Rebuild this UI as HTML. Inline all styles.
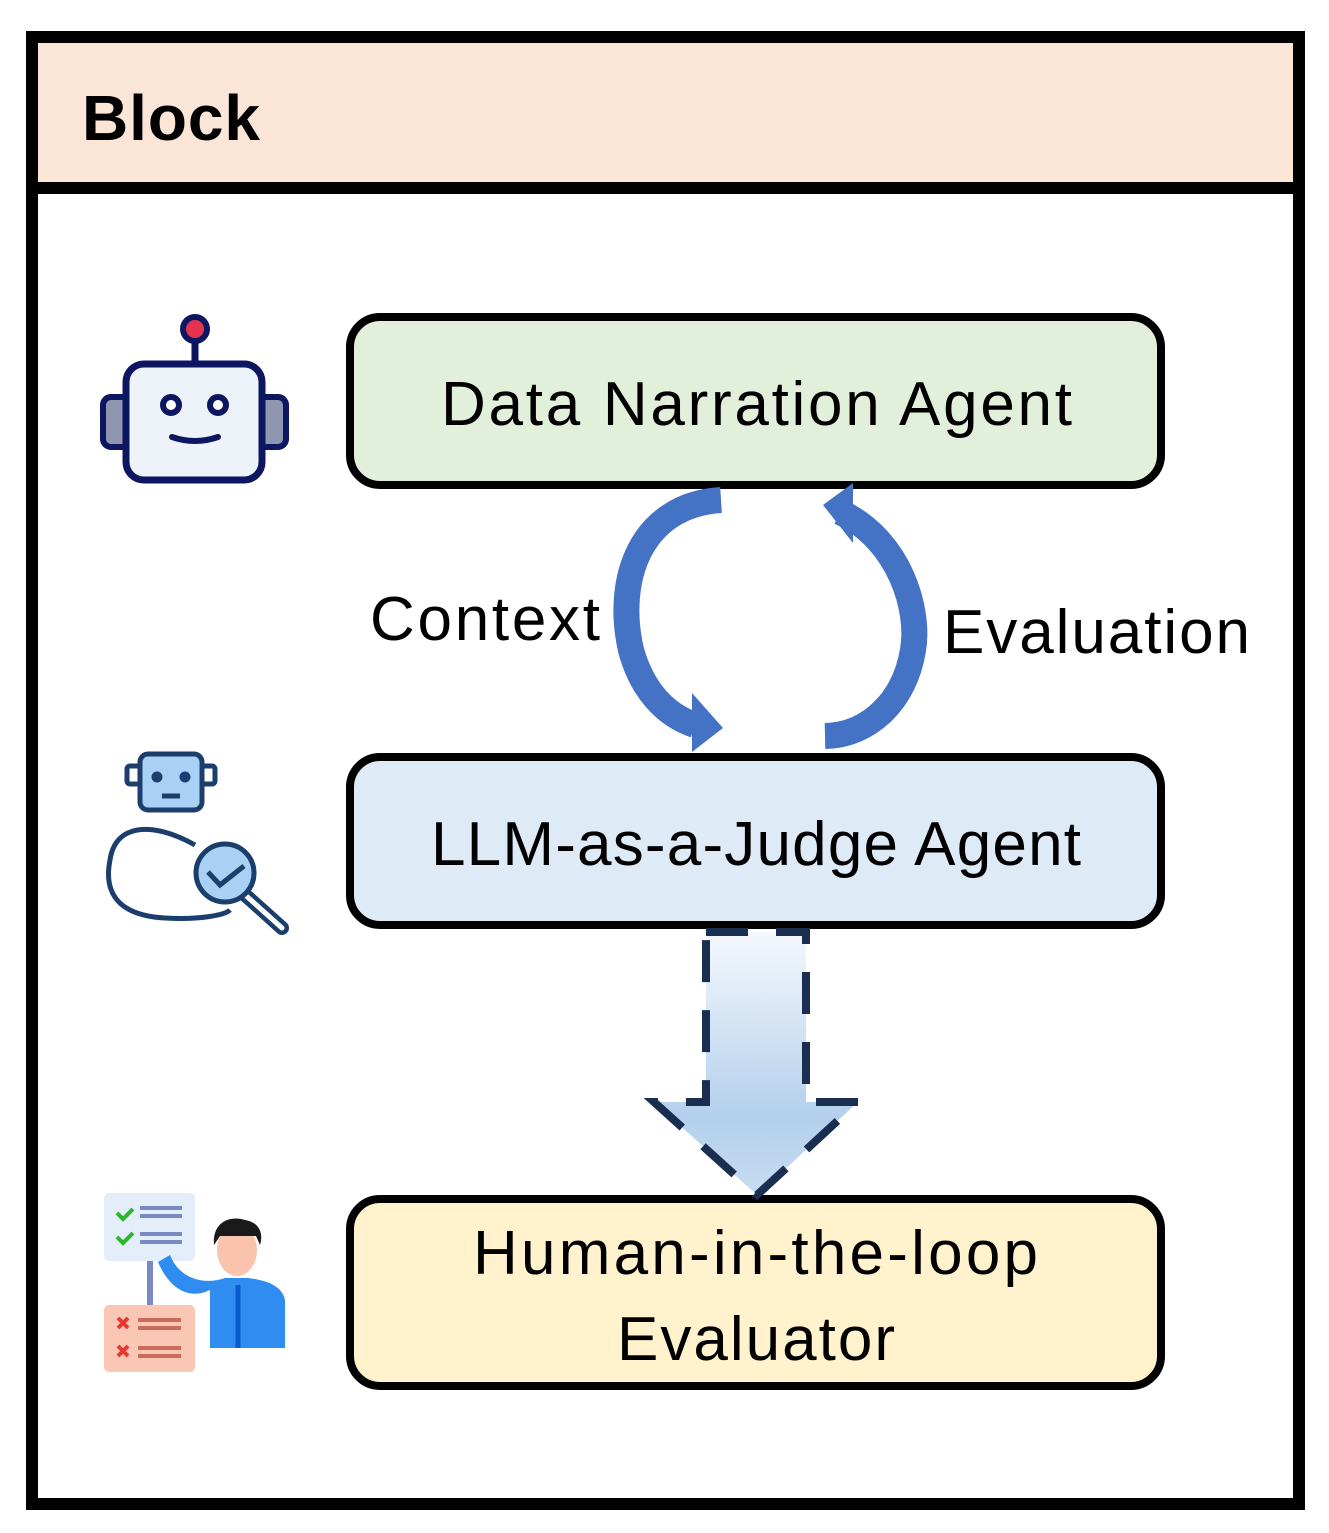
<!DOCTYPE html>
<html><head><meta charset="utf-8"><style>
html,body{margin:0;padding:0;background:#fff}
svg{display:block}
text{font-family:"Liberation Sans",sans-serif;fill:#000}
</style></head><body>
<svg width="1329" height="1533" viewBox="0 0 1329 1533">
<defs>
<linearGradient id="g" x1="0" y1="0" x2="0" y2="1">
<stop offset="0" stop-color="#f5f8fd"/><stop offset="0.7" stop-color="#b4d0ec"/><stop offset="1" stop-color="#c6dcf0"/>
</linearGradient>
</defs>
<rect x="0" y="0" width="1329" height="1533" fill="#fff"/>
<rect x="32" y="37" width="1267" height="1467" fill="#fff" stroke="#000" stroke-width="12"/>
<rect x="38" y="43" width="1255" height="139" fill="#fae5d6"/>
<rect x="32" y="182" width="1267" height="12" fill="#000"/>
<text x="82" y="140" font-size="64" font-weight="bold" textLength="178">Block</text>

<rect x="350" y="317" width="811" height="168" rx="30" fill="#e2efda" stroke="#000" stroke-width="8"/>
<text x="441" y="425" font-size="62" textLength="631">Data Narration Agent</text>
<rect x="350" y="757" width="811" height="168" rx="30" fill="#deebf7" stroke="#000" stroke-width="8"/>
<text x="431" y="865" font-size="62" textLength="650">LLM-as-a-Judge Agent</text>
<rect x="350" y="1199" width="811" height="187" rx="30" fill="#fff2cc" stroke="#000" stroke-width="8"/>
<text x="473" y="1274" font-size="62" textLength="565">Human-in-the-loop</text>
<text x="617" y="1360" font-size="62" textLength="278">Evaluator</text>

<text x="370" y="640" font-size="62" textLength="230">Context</text>
<text x="943" y="653" font-size="62" textLength="307">Evaluation</text>

<!-- left arrow -->
<path d="M721,500 C640,505 615,580 631,650 C642,690 665,715 695,725" fill="none" stroke="#4472c4" stroke-width="26"/>
<polygon points="692,693 723,728 692,752" fill="#4472c4"/>
<!-- right arrow -->
<path d="M840,512 C900,540 920,610 913,650 C905,700 870,735 825,736" fill="none" stroke="#4472c4" stroke-width="26"/>
<polygon points="853,483 823,505 853,543" fill="#4472c4"/>

<!-- dashed arrow -->
<polygon points="706,932 806,932 806,1102 858,1102 757,1195 654,1102 706,1102" fill="url(#g)" stroke="#1a2e52" stroke-width="8" stroke-dasharray="42,28" stroke-linejoin="miter"/>

<!-- robot icon -->
<g>
<line x1="195" y1="335" x2="195" y2="365" stroke="#0d1660" stroke-width="7"/>
<circle cx="195" cy="329" r="12" fill="#e6344e" stroke="#0d1660" stroke-width="6"/>
<rect x="103" y="397" width="30" height="50" rx="8" fill="#8f96b0" stroke="#0d1660" stroke-width="6"/>
<rect x="256" y="397" width="30" height="50" rx="8" fill="#8f96b0" stroke="#0d1660" stroke-width="6"/>
<rect x="126" y="364" width="136" height="116" rx="18" fill="#eef2f9" stroke="#0d1660" stroke-width="7"/>
<circle cx="171" cy="405" r="8" fill="#fff" stroke="#0d1660" stroke-width="6"/>
<circle cx="218" cy="405" r="8" fill="#fff" stroke="#0d1660" stroke-width="6"/>
<path d="M172,437 Q195,445 218,437" fill="none" stroke="#0d1660" stroke-width="6" stroke-linecap="round"/>
</g>

<!-- judge icon -->
<g stroke="#1b3e6d" stroke-width="5" fill="none">
<rect x="127" y="766" width="14" height="18" rx="3" fill="#fff"/>
<rect x="201" y="766" width="14" height="18" rx="3" fill="#fff"/>
<rect x="140" y="754" width="62" height="56" rx="8" fill="#a9d0f5"/>
<circle cx="157" cy="777" r="3" fill="#1b3e6d"/>
<circle cx="185" cy="777" r="3" fill="#1b3e6d"/>
<line x1="162" y1="796" x2="180" y2="796"/>
<path d="M195,845 C150,820 115,825 110,860 C105,885 110,915 165,918 C200,920 225,915 230,910"/>
<line x1="243" y1="893" x2="282" y2="928" stroke-width="14" stroke-linecap="round"/>
<line x1="243" y1="893" x2="282" y2="928" stroke="#fff" stroke-width="5" stroke-linecap="round"/>
<circle cx="225" cy="873" r="29" fill="#a9d0f5"/>
<polyline points="208,872 220,885 244,866"/>
</g>

<!-- human icon -->
<g>
<rect x="104" y="1193" width="91" height="68" rx="5" fill="#e4eefb"/>
<path d="M117,1213 l6,6 l10,-10 M117,1237 l6,6 l10,-10" stroke="#2db52b" stroke-width="4" fill="none"/>
<g stroke="#7a89c2" stroke-width="4"><line x1="140" y1="1208" x2="182" y2="1208"/><line x1="140" y1="1216" x2="182" y2="1216"/><line x1="140" y1="1234" x2="182" y2="1234"/><line x1="140" y1="1242" x2="182" y2="1242"/></g>
<rect x="147" y="1261" width="6" height="45" fill="#7a89c2"/>
<rect x="104" y="1305" width="91" height="67" rx="5" fill="#fbc7b5"/>
<path d="M118,1318 l10,10 M128,1318 l-10,10 M118,1346 l10,10 M128,1346 l-10,10" stroke="#e53935" stroke-width="4"/>
<g stroke="#c96a5a" stroke-width="4"><line x1="138" y1="1320" x2="181" y2="1320"/><line x1="138" y1="1328" x2="181" y2="1328"/><line x1="138" y1="1348" x2="181" y2="1348"/><line x1="138" y1="1356" x2="181" y2="1356"/></g>
<path d="M158,1262 C170,1290 190,1300 210,1290 L210,1348 L285,1348 L285,1300 C282,1285 265,1280 248,1278 L225,1278 C205,1285 180,1280 170,1255 Z" fill="#2f8cf0"/>
<line x1="238" y1="1285" x2="238" y2="1348" stroke="#0b5ad1" stroke-width="5"/>
<ellipse cx="237" cy="1250" rx="20" ry="26" fill="#f9c3ae"/>
<path d="M214,1245 C212,1222 230,1215 245,1220 C258,1222 264,1232 260,1245 L256,1236 L220,1236 Z" fill="#1a1a1a"/>
</g>
</svg>
</body></html>
